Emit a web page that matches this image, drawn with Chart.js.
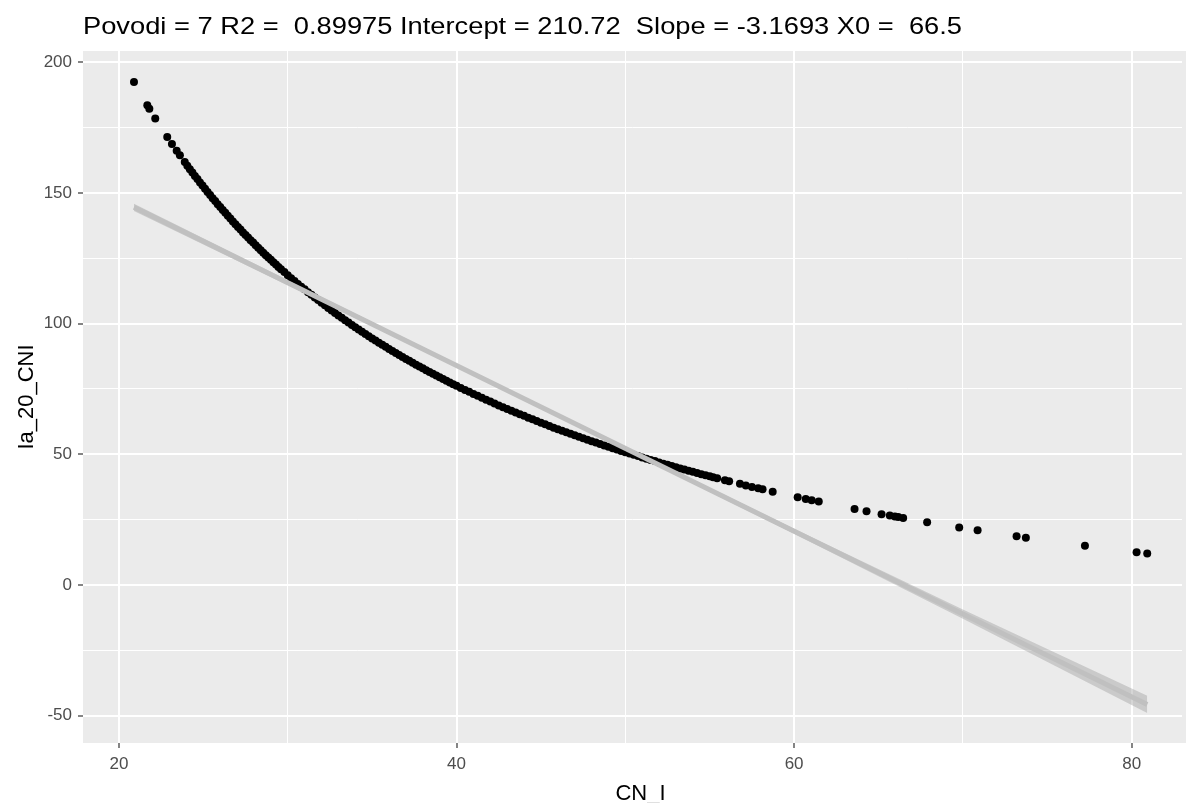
<!DOCTYPE html>
<html>
<head>
<meta charset="utf-8">
<title>Ia_20_CNI vs CN_I</title>
<script src="https://cdn.jsdelivr.net/npm/chart.js@4.4.1/dist/chart.umd.min.js"></script>
<style>
  html, body { margin: 0; padding: 0; background: #ffffff; overflow: hidden; }
  canvas { display: block; }
</style>
</head>
<body>
<canvas id="chart" width="1186" height="803"></canvas>
<script>
// ---- data -------------------------------------------------------------
const povodi = 7;
const r2 = '0.89975';
const intercept = 210.72;
const slope = -3.1693;
const x0 = '66.5';

// CN_I values of the observations
const cnI = [
  20.89, 21.68, 21.80, 22.15, 22.86, 23.14, 23.42, 23.61,
  23.9, 24.05, 24.2, 24.35, 24.5, 24.65, 24.8, 24.95, 25.1, 25.25,
  25.4, 25.55, 25.7, 25.85, 26.0, 26.15, 26.3, 26.45, 26.6, 26.75,
  26.9, 27.05, 27.2, 27.35, 27.5, 27.65, 27.8, 27.95, 28.1, 28.25,
  28.4, 28.55, 28.7, 28.85, 29.0, 29.15, 29.3, 29.45, 29.6, 29.8,
  30.0, 30.2, 30.4, 30.6, 30.8, 31.0, 31.2, 31.4, 31.6, 31.8,
  32.0, 32.2, 32.4, 32.6, 32.8, 33.0, 33.2, 33.4, 33.6, 33.8,
  34.0, 34.2, 34.4, 34.6, 34.8, 35.0, 35.2, 35.4, 35.6, 35.8,
  36.0, 36.2, 36.4, 36.6, 36.8, 37.0, 37.2, 37.4, 37.6, 37.8,
  38.0, 38.2, 38.4, 38.6, 38.8, 39.0, 39.2, 39.4, 39.6, 39.8,
  40.0, 40.25, 40.5, 40.75, 41.0, 41.25, 41.5, 41.75, 42.0, 42.25,
  42.5, 42.75, 43.0, 43.25, 43.5, 43.75, 44.0, 44.25, 44.5, 44.75,
  45.0, 45.25, 45.5, 45.75, 46.0, 46.25, 46.5, 46.75, 47.0, 47.25,
  47.5, 47.75, 48.0, 48.25, 48.5, 48.75, 49.0, 49.25, 49.5, 49.75,
  50.0, 50.25, 50.5, 50.75, 51.0, 51.25, 51.5, 51.75, 52.0, 52.25,
  52.5, 52.75, 53.0, 53.25, 53.5, 53.75, 54.0, 54.25, 54.5, 54.75,
  55.0, 55.2,
  55.44, 55.90, 56.15, 56.79, 57.14, 57.50, 57.87, 58.13, 58.73, 60.21,
  60.69, 61.04, 61.46, 63.58, 64.29, 65.18, 65.67, 65.97, 66.17, 66.46,
  67.88, 69.78, 70.87, 73.18, 73.73, 77.23, 80.29, 80.92
];

// Ia_20_CNI values, same order as cnI
const ia20 = [
  192.4, 183.5, 182.2, 178.5, 171.4, 168.7, 166.1, 164.4,
  161.8, 160.4, 159.1, 157.8, 156.5, 155.3, 154.0, 152.8, 151.6, 150.4,
  149.2, 148.0, 146.9, 145.7, 144.6, 143.5, 142.4, 141.3, 140.2, 139.1,
  138.0, 137.0, 136.0, 134.9, 133.9, 132.9, 131.9, 131.0, 130.0, 129.0,
  128.1, 127.1, 126.2, 125.3, 124.4, 123.5, 122.6, 121.7, 120.8, 119.7,
  118.5, 117.4, 116.3, 115.2, 114.1, 113.1, 112.0, 111.0, 110.0, 109.0,
  108.0, 107.0, 106.0, 105.0, 104.1, 103.1, 102.2, 101.3, 100.4, 99.5,
  98.6, 97.7, 96.9, 96.0, 95.2, 94.3, 93.5, 92.7, 91.9, 91.1,
  90.3, 89.5, 88.8, 88.0, 87.2, 86.5, 85.8, 85.0, 84.3, 83.6,
  82.9, 82.2, 81.5, 80.8, 80.1, 79.5, 78.8, 78.1, 77.5, 76.8,
  76.2, 75.4, 74.6, 73.9, 73.1, 72.4, 71.6, 70.9, 70.2, 69.4,
  68.7, 68.0, 67.3, 66.7, 66.0, 65.3, 64.7, 64.0, 63.4, 62.7,
  62.1, 61.5, 60.8, 60.2, 59.6, 59.0, 58.4, 57.9, 57.3, 56.7,
  56.1, 55.6, 55.0, 54.5, 53.9, 53.4, 52.9, 52.3, 51.8, 51.3,
  50.8, 50.3, 49.8, 49.3, 48.8, 48.3, 47.8, 47.4, 46.9, 46.4,
  46.0, 45.5, 45.0, 44.6, 44.2, 43.7, 43.3, 42.8, 42.4, 42.0,
  41.6, 41.2,
  40.8, 40.1, 39.7, 38.7, 38.1, 37.5, 37.0, 36.6, 35.7, 33.6,
  32.9, 32.4, 31.9, 29.1, 28.2, 27.1, 26.6, 26.2, 26.0, 25.6,
  24.0, 22.0, 20.9, 18.6, 18.1, 15.0, 12.5, 12.0
];

// confidence band of the linear fit
const bandX    = [20.89, 30, 40, 50, 60, 70, 80.92];
const bandLow  = [143.1, 114.7, 83.3, 51.6, 19.6, -12.9, -49.0];
const bandHigh = [145.9, 116.6, 84.6, 52.9, 21.5, -9.4, -42.4];

// axis ticks (majors are labelled, the others are minor grid lines)
const xTicks = [20, 30, 40, 50, 60, 70, 80];
const yTicks = [-50, -25, 0, 25, 50, 75, 100, 125, 150, 175, 200];
const xMajorStep = 20;
const yMajorStep = 50;

// ---- drawing ----------------------------------------------------------
const FONT = '"Liberation Sans", Arial, sans-serif';
const titleText = `Povodi = ${povodi} R2 =  ${r2} Intercept = ${intercept}  Slope = ${slope} X0 =  ${x0}`;

const points = cnI.map((x, i) => ({ x: x, y: ia20[i] }));
const xFirst = Math.min(...cnI);
const xLast = Math.max(...cnI);
const fitLine = [
  { x: xFirst, y: intercept + slope * xFirst },
  { x: xLast,  y: intercept + slope * xLast }
];
const bandUpper = bandX.map((x, i) => ({ x: x, y: bandHigh[i] }));
const bandLower = bandX.map((x, i) => ({ x: x, y: bandLow[i] }));

const panelPlugin = {
  id: 'panel',
  beforeDraw(chart) {
    const { ctx, chartArea: a } = chart;
    ctx.save();
    ctx.fillStyle = '#EBEBEB';
    ctx.fillRect(a.left, a.top, chart.width - a.left, a.bottom - a.top);
    ctx.restore();
  },
  afterDraw(chart) {
    const { ctx } = chart;
    ctx.save();
    ctx.fillStyle = '#000000';
    // plot title, left aligned with the panel
    ctx.font = `24px ${FONT}`;
    ctx.textBaseline = 'alphabetic';
    ctx.textAlign = 'left';
    const w = ctx.measureText(titleText).width;
    ctx.translate(83, 34);
    ctx.scale(879 / w, 1);
    ctx.fillText(titleText, 0, 0);
    ctx.restore();

    ctx.save();
    ctx.fillStyle = '#000000';
    ctx.font = `22px ${FONT}`;
    ctx.textAlign = 'center';
    ctx.textBaseline = 'alphabetic';
    ctx.fillText('CN_I', 640.5, 800);
    ctx.translate(33, 397);
    ctx.rotate(-Math.PI / 2);
    ctx.fillText('Ia_20_CNI', 0, 0);
    ctx.restore();
  }
};

const gridFor = (step) => ({
  color: '#FFFFFF',
  lineWidth: (c) => (c.tick && c.tick.value % step === 0 ? 2 : 1),
  tickColor: (c) => (c.tick && c.tick.value % step === 0 ? '#333333' : 'rgba(0,0,0,0)'),
  tickWidth: 1.2,
  tickLength: 5,
  drawOnChartArea: true,
  drawTicks: true
});

new Chart(document.getElementById('chart').getContext('2d'), {
  type: 'scatter',
  data: {
    datasets: [
      {
        type: 'line',
        data: fitLine,
        borderColor: '#C0C0C0',
        borderWidth: 5,
        borderCapStyle: 'butt',
        pointRadius: 0,
        fill: false,
        tension: 0
      },
      {
        type: 'line',
        data: bandUpper,
        borderColor: 'rgba(0,0,0,0)',
        borderWidth: 1,
        pointRadius: 0,
        fill: '+1',
        backgroundColor: 'rgba(153,153,153,0.4)',
        tension: 0
      },
      {
        type: 'line',
        data: bandLower,
        borderColor: 'rgba(0,0,0,0)',
        borderWidth: 1,
        pointRadius: 0,
        fill: false,
        tension: 0
      },
      {
        type: 'scatter',
        data: points,
        pointRadius: 4,
        pointHoverRadius: 4,
        pointBackgroundColor: '#000000',
        pointBorderWidth: 0,
        pointBorderColor: 'rgba(0,0,0,0)'
      }
    ]
  },
  options: {
    responsive: false,
    animation: false,
    devicePixelRatio: 1,
    events: [],
    layout: { padding: { top: 51, left: 0, right: 0, bottom: 0 } },
    plugins: {
      legend: { display: false },
      tooltip: { enabled: false },
      title: { display: false }
    },
    scales: {
      x: {
        type: 'linear',
        min: 17.87,
        max: 82.98,
        afterFit(s) { s.height = 60; },
        afterBuildTicks(s) { s.ticks = xTicks.map(v => ({ value: v })); },
        border: { display: false },
        grid: gridFor(xMajorStep),
        ticks: {
          autoSkip: false,
          maxRotation: 0,
          padding: 6,
          color: '#4D4D4D',
          font: { family: FONT, size: 17 },
          callback: (v) => (v % xMajorStep === 0 ? String(v) : '')
        }
      },
      y: {
        type: 'linear',
        min: -60.46,
        max: 204.3,
        afterFit(s) { s.width = 83; },
        afterBuildTicks(s) { s.ticks = yTicks.map(v => ({ value: v })); },
        border: { display: false },
        grid: gridFor(yMajorStep),
        ticks: {
          autoSkip: false,
          padding: 6,
          color: '#4D4D4D',
          font: { family: FONT, size: 17 },
          callback: (v) => (v % yMajorStep === 0 ? String(v) : '')
        }
      }
    }
  },
  plugins: [panelPlugin]
});
</script>
</body>
</html>
